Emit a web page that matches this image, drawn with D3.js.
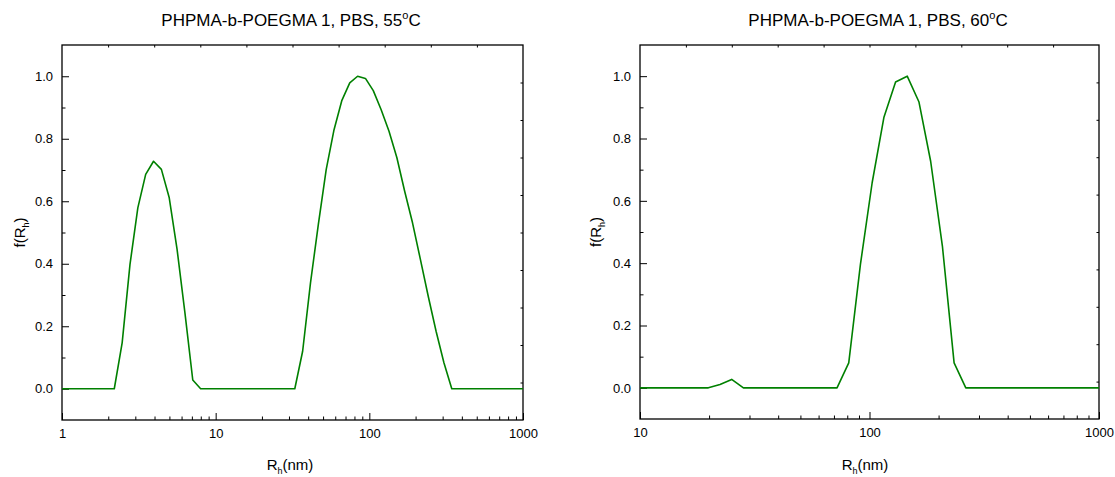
<!DOCTYPE html>
<html>
<head>
<meta charset="utf-8">
<script src="https://cdn.jsdelivr.net/npm/d3@7"></script>
<style>
  html, body { margin: 0; padding: 0; background: #fff; }
  svg { display: block; font-family: "Liberation Sans", Arial, sans-serif; }
</style>
</head>
<body>
<svg id="chart" width="1115" height="477"></svg>
<script>
// Hydrodynamic radius distributions (DLS), PHPMA-b-POEGMA 1 in PBS
const titles = ["PHPMA-b-POEGMA 1, PBS, 55", "PHPMA-b-POEGMA 1, PBS, 60"];

// 55 °C: hydrodynamic radius (nm) and normalised distribution f(Rh)
const rh55 = [1, 2.189, 2.463, 2.770, 3.115, 3.504, 3.941, 4.434, 4.987, 5.609, 6.310, 7.096, 7.983,
              32.73, 36.81, 41.41, 46.58, 52.39, 58.93, 66.29, 74.57, 83.86, 94.33, 106.1, 119.4,
              134.3, 151.0, 169.8, 191.0, 214.9, 241.7, 271.9, 305.8, 344.0, 1000];
const f55  = [0, 0, 0.147, 0.398, 0.579, 0.686, 0.728, 0.702, 0.611, 0.446, 0.243, 0.028, 0,
              0, 0.120, 0.339, 0.526, 0.701, 0.829, 0.923, 0.979, 1.0, 0.993, 0.954, 0.893,
              0.824, 0.740, 0.632, 0.531, 0.414, 0.296, 0.184, 0.083, 0, 0];

// 60 °C
const rh60 = [10, 19.85, 22.32, 25.09, 28.22, 72.2, 81.2, 91.3, 102.7, 115.5, 129.9, 146.0,
              164.3, 184.7, 207.8, 233.7, 262.8, 1000];
const f60  = [0, 0, 0.011, 0.027, 0, 0, 0.080, 0.396, 0.658, 0.867, 0.981, 1.0,
              0.917, 0.727, 0.455, 0.080, 0, 0];

const xDomain55 = [1, 1000];
const xDomain60 = [10, 1000];
const yDomain = [-0.1, 1.1];
const yMajor = [0, 0.2, 0.4, 0.6, 0.8, 1.0];
const yMinor = [0.1, 0.3, 0.5, 0.7, 0.9];

const svg = d3.select("#chart");

function drawPanel(opt) {
  const { left, right, top, bottom, xDomain, rh, f, title, titleX, xLabelX, yLabelX } = opt;
  const g = svg.append("g");

  const x = d3.scaleLog().domain(xDomain).range([left, right]);
  const y = d3.scaleLinear().domain(yDomain).range([bottom, top]);

  // log-decade majors and 2..9 minors
  const lo = Math.round(Math.log10(xDomain[0])), hi = Math.round(Math.log10(xDomain[1]));
  const xMajor = d3.range(lo, hi + 1).map(e => Math.pow(10, e));
  const xMinor = [];
  for (let e = lo; e < hi; e++) for (let m = 2; m <= 9; m++) xMinor.push(m * Math.pow(10, e));

  const tickStyle = sel => {
    sel.select(".domain").remove();
    sel.selectAll(".tick line").attr("stroke", "#000").attr("stroke-width", 1);
    sel.selectAll(".tick text").attr("fill", "#000").attr("font-size", 13)
       .attr("font-family", "'Liberation Sans', Arial, sans-serif");
  };

  // bottom axis
  g.append("g").attr("transform", `translate(0,${bottom})`)
    .call(d3.axisBottom(x).tickValues(xMajor).tickSize(-7).tickPadding(9).tickFormat(d3.format("d")))
    .call(tickStyle);
  g.append("g").attr("transform", `translate(0,${bottom})`)
    .call(d3.axisBottom(x).tickValues(xMinor).tickSize(-3.5).tickFormat(""))
    .call(tickStyle);

  // left axis
  g.append("g").attr("transform", `translate(${left},0)`)
    .call(d3.axisLeft(y).tickValues(yMajor).tickSize(-7).tickPadding(9).tickFormat(d3.format(".1f")))
    .call(tickStyle);
  g.append("g").attr("transform", `translate(${left},0)`)
    .call(d3.axisLeft(y).tickValues(yMinor).tickSize(-3.5).tickFormat(""))
    .call(tickStyle);

  // top and right frame axes: ten equal divisions, small inward ticks
  const xEven = d3.scaleLinear().domain([0, 10]).range([left, right]);
  const yEven = d3.scaleLinear().domain([0, 10]).range([bottom, top]);
  g.append("g").attr("transform", `translate(0,${top})`)
    .call(d3.axisTop(xEven).tickValues(d3.range(1, 10)).tickSize(-2.5).tickFormat(""))
    .call(tickStyle);
  g.append("g").attr("transform", `translate(${right},0)`)
    .call(d3.axisRight(yEven).tickValues(d3.range(1, 10)).tickSize(-2.5).tickFormat(""))
    .call(tickStyle);

  // frame
  g.append("rect").attr("x", left).attr("y", top)
    .attr("width", right - left).attr("height", bottom - top)
    .attr("fill", "none").attr("stroke", "#000").attr("stroke-width", 1.3);

  // distribution curve
  const line = d3.line().x((d, i) => x(rh[i])).y(d => y(d));
  g.append("path").datum(f)
    .attr("d", line)
    .attr("fill", "none").attr("stroke", "#008000").attr("stroke-width", 1.6)
    .attr("stroke-linejoin", "round");

  // title with superscript degree mark
  const t = g.append("text").attr("x", titleX).attr("y", 26)
    .attr("text-anchor", "middle").attr("font-size", 17).attr("fill", "#000");
  t.append("tspan").text(title);
  t.append("tspan").attr("font-size", 11).attr("dy", -7).text("o");
  t.append("tspan").attr("dy", 7).text("C");

  // x label R_h(nm)
  const xl = g.append("text").attr("x", xLabelX).attr("y", 470)
    .attr("text-anchor", "middle").attr("font-size", 15).attr("fill", "#000");
  xl.append("tspan").text("R");
  xl.append("tspan").attr("font-size", 9).attr("dy", 4).text("h");
  xl.append("tspan").attr("dy", -4).text("(nm)");

  // y label f(R_h)
  const yl = g.append("text")
    .attr("transform", `translate(${yLabelX},${(top + bottom) / 2}) rotate(-90)`)
    .attr("text-anchor", "middle").attr("font-size", 15).attr("fill", "#000");
  yl.append("tspan").text("f(R");
  yl.append("tspan").attr("font-size", 9).attr("dy", 4).text("h");
  yl.append("tspan").attr("dy", -4).text(")");
}

drawPanel({ left: 62, right: 523, top: 45, bottom: 420, xDomain: xDomain55, rh: rh55, f: f55,
            title: titles[0], titleX: 291, xLabelX: 290, yLabelX: 25 });
drawPanel({ left: 640, right: 1099, top: 45, bottom: 419, xDomain: xDomain60, rh: rh60, f: f60,
            title: titles[1], titleX: 878, xLabelX: 865, yLabelX: 601 });
</script>
</body>
</html>
